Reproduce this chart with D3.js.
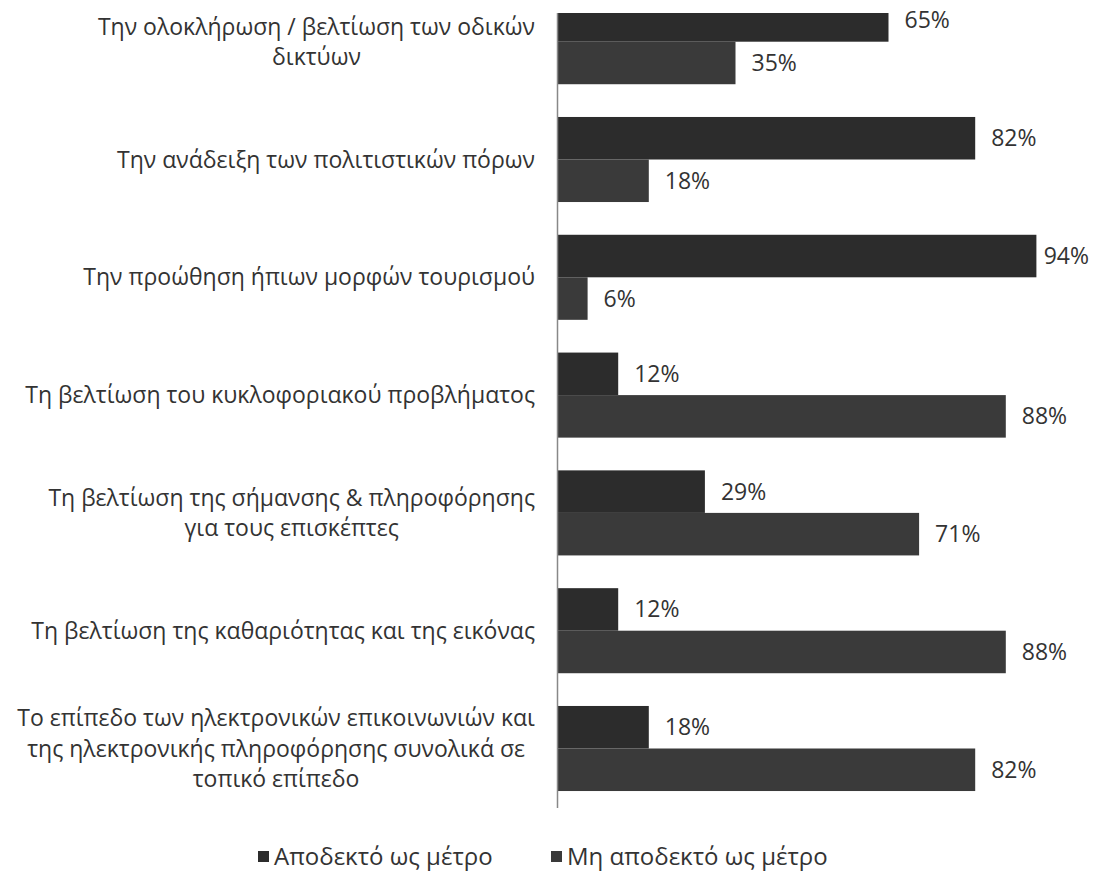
<!DOCTYPE html>
<html>
<head>
<meta charset="utf-8">
<script src="https://cdn.jsdelivr.net/npm/d3@7"></script>
<style>
  html, body { margin: 0; padding: 0; background: #ffffff; }
  svg { display: block; }
  text { font-family: "Open Sans", "Noto Sans", sans-serif; fill: #333333; }
</style>
</head>
<body>
<svg id="chart" width="1094" height="871"></svg>
<script>
// ---- data ----
const categories = [
  ["Την ολοκλήρωση / βελτίωση των οδικών", "δικτύων"],
  ["Την ανάδειξη των πολιτιστικών πόρων"],
  ["Την προώθηση ήπιων μορφών τουρισμού"],
  ["Τη βελτίωση του κυκλοφοριακού προβλήματος"],
  ["Τη βελτίωση της σήμανσης & πληροφόρησης", "για τους επισκέπτες"],
  ["Τη βελτίωση της καθαριότητας και της εικόνας "],
  ["Το επίπεδο των ηλεκτρονικών επικοινωνιών και", "της ηλεκτρονικής πληροφόρησης συνολικά σε", "τοπικό επίπεδο"]
];
const seriesNames = ["Αποδεκτό ως μέτρο", "Μη αποδεκτό ως μέτρο"];
const accepted    = [65, 82, 94, 12, 29, 12, 18];
const notAccepted = [35, 18,  6, 88, 71, 88, 82];
const seriesColors = ["#2c2c2c", "#3a3a3a"];

// ---- layout ----
const svg = d3.select("#chart");
const axisX = 557;
const plotTop = -17.2, plotBottom = 807.4;
const visibleTop = 13;
const rightLimit = 1089;

const idx = d3.range(categories.length);
const y = d3.scaleBand().domain(idx).range([plotTop, plotBottom]).paddingInner(0.278).paddingOuter(0.139);
const ySub = d3.scaleBand().domain([0, 1]).range([0, y.bandwidth()]);
const x = d3.scaleLinear().domain([0, 100]).range([axisX, axisX + 510]);

svg.append("defs").append("clipPath").attr("id", "plotclip")
  .append("rect").attr("x", 0).attr("y", visibleTop).attr("width", 1094).attr("height", plotBottom - visibleTop + 2);

const plot = svg.append("g").attr("clip-path", "url(#plotclip)");

const series = [accepted, notAccepted];
series.forEach((vals, s) => {
  plot.selectAll(".bar" + s).data(vals).join("rect")
    .attr("class", "bar" + s)
    .attr("x", x(0))
    .attr("y", (d, i) => y(i) + ySub(s))
    .attr("width", d => x(d) - x(0))
    .attr("height", ySub.bandwidth())
    .attr("fill", seriesColors[s]);
});

// axis line
const axis = d3.axisLeft(y).tickSize(0).tickFormat("");
const axG = plot.append("g").attr("transform", `translate(${axisX},0)`).call(axis);
axG.select(".domain").attr("stroke", "#888").attr("stroke-width", 1.5);

// value labels
series.forEach((vals, s) => {
  const lbl = svg.selectAll(".val" + s).data(vals).join("text")
    .attr("class", "val" + s)
    .attr("y", (d, i) => y(i) + ySub(s) + ySub.bandwidth() / 2)
    .attr("dy", "0.35em")
    .style("font-size", "23px")
    .text(d => d + "%");
  lbl.attr("x", function(d) {
    const w = this.getComputedTextLength();
    return Math.min(x(d) + 16, rightLimit - w);
  });
});

// category labels
const lineH = 30.5;
const catG = svg.selectAll(".cat").data(categories).join("g").attr("class", "cat");
catG.each(function(lines, i) {
  const g = d3.select(this);
  const cy = y(i) + y.bandwidth() / 2;
  const t = g.append("text").style("font-size", "23px").attr("text-anchor", "middle");
  lines.forEach((ln, k) => {
    t.append("tspan").attr("x", 0)
      .attr("y", cy + (k - (lines.length - 1) / 2) * lineH)
      .attr("dy", "0.35em")
      .text(ln);
  });
  // right edge of the centred block sits at x=535
  const w = t.node().getBBox().width;
  t.attr("transform", `translate(${535 - w / 2},0)`);
});

// legend
const legendItems = [{x: 258}, {x: 551}];
legendItems.forEach((it, s) => {
  svg.append("rect").attr("x", it.x).attr("y", 851).attr("width", 11).attr("height", 11).attr("fill", seriesColors[s]);
  svg.append("text").attr("x", it.x + 16).attr("y", 857).attr("dy", "0.35em")
    .style("font-size", "24px").text(seriesNames[s]);
});
</script>
</body>
</html>
